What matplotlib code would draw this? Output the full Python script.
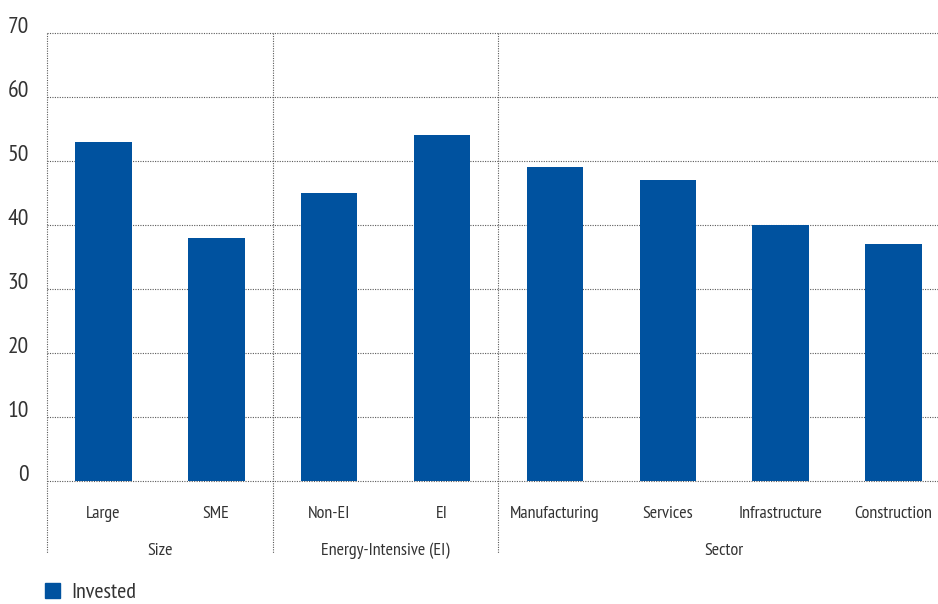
import matplotlib.pyplot as plt
from matplotlib.patches import Rectangle
import numpy as np

plt.rcParams['font.family'] = ['PT Sans Narrow', 'DejaVu Sans']

# data
categories = ['Large', 'SME', 'Non-EI', 'EI', 'Manufacturing', 'Services',
              'Infrastructure', 'Construction']
invested = [53, 38, 45, 54, 49, 47, 40, 37]
groups = ['Size', 'Energy-Intensive (EI)', 'Sector']
group_sizes = [2, 2, 4]
yticks = [0, 10, 20, 30, 40, 50, 60, 70]

bar_color = '#00529F'
text_color = '#333333'
grid_color = '#5a5a5a'
dots = (0, (1, 1.2))

fig = plt.figure(figsize=(9.38, 6.04), dpi=100)
ax = fig.add_axes([47 / 938, 123 / 604, 891 / 938, 448 / 604])

x = np.arange(len(categories))
ax.bar(x, invested, width=0.5, color=bar_color, zorder=3)

ax.set_xlim(-0.5, -0.5 + 891 / 112.86)
ax.set_ylim(0, 70)
ax.set_yticks(yticks)
ax.set_yticklabels([str(v) for v in yticks], fontsize=17, color=text_color)
for lbl in ax.get_yticklabels():
    lbl.set_va('baseline')
ax.set_xticks([])
ax.tick_params(axis='both', length=0)
ax.tick_params(axis='y', pad=13)
for s in ax.spines.values():
    s.set_visible(False)

# horizontal dotted grid
for v in yticks:
    ax.axhline(v, color=grid_color, lw=0.8, ls=dots, zorder=1, clip_on=False)

trans = ax.get_xaxis_transform()
# category labels
for xi, c in zip(x, categories):
    ax.text(xi, -37 / 448, c, transform=trans, ha='center', va='baseline',
            fontsize=13, color=text_color)

# group separators and labels
edges = np.concatenate([[0], np.cumsum(group_sizes)]) - 0.5
for e in edges[:-1]:
    ax.plot([e, e], [1, -72 / 448], transform=trans, color=grid_color, lw=0.8,
            ls=dots, clip_on=False, zorder=1)
for g, a, b in zip(groups, edges[:-1], edges[1:]):
    ax.text((a + b) / 2, -74 / 448, g, transform=trans, ha='center',
            va='baseline', fontsize=13, color=text_color)

# legend
fig.patches.append(Rectangle((45 / 938, 6 / 604), 15 / 938, 15 / 604,
                             transform=fig.transFigure, color=bar_color))
fig.text(71 / 938, 6 / 604, 'Invested', va='baseline', ha='left',
         fontsize=16, color=text_color)

fig.savefig('out.png', dpi=100)
